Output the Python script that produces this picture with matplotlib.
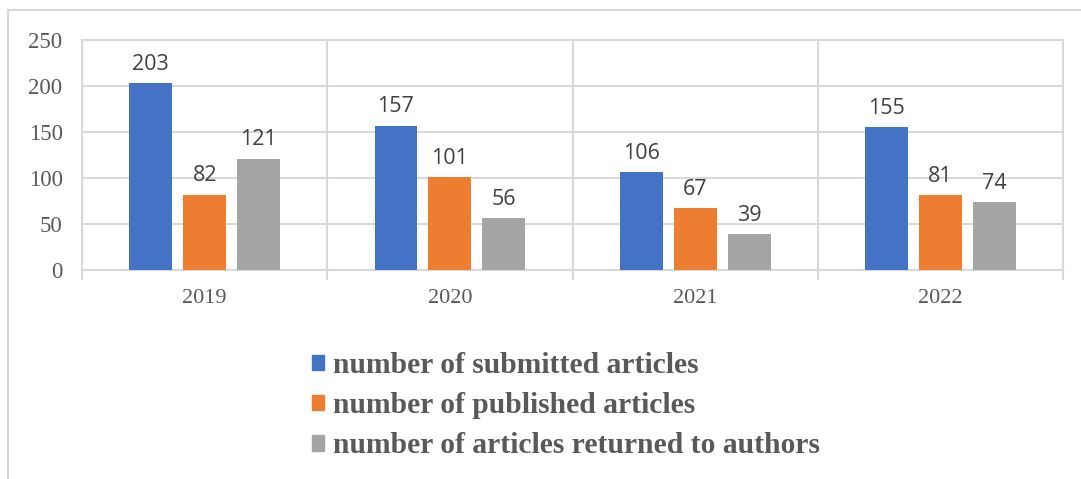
import numpy as np
import matplotlib
matplotlib.use("Agg")
import matplotlib.pyplot as plt
from matplotlib.lines import Line2D

# data
years = ["2019", "2020", "2021", "2022"]
submitted = [203, 157, 106, 155]
published = [82, 101, 67, 81]
returned = [121, 56, 39, 74]
series_names = ["number of submitted articles",
                "number of published articles",
                "number of articles returned to authors"]
colors = ["#4472c4", "#ed7d31", "#a5a5a5"]
yticks = [0, 50, 100, 150, 200, 250]

grid_c = "#d9d9d9"
text_c = "#595959"

fig = plt.figure(figsize=(10.81, 4.79), dpi=100)
ax = fig.add_axes([0.0759, 0.4363, 0.9075, 0.4802])

x = np.arange(len(years))
w = 0.175
step = 0.22
for i, (vals, c, name) in enumerate(zip([submitted, published, returned], colors, series_names)):
    xs = x + (i - 1) * step
    ax.bar(xs, vals, width=w, color=c, label=name, zorder=3)
    for xx, v in zip(xs, vals):
        ax.text(xx, v + 9, str(v), ha="center", va="bottom",
                fontsize=15.5, family="Open Sans", color="#404040")

ax.set_xlim(-0.5, len(years) - 0.5)
ax.set_ylim(0, 250)
ax.set_yticks(yticks)
ax.set_yticklabels([str(t) for t in yticks], family="Liberation Serif",
                   fontsize=16.5, color=text_c)
ax.tick_params(axis="y", length=0, pad=14)

# category labels at centres, ticks at boundaries
ax.set_xticks(x)
ax.set_xticklabels(years, family="Liberation Serif", fontsize=16, color=text_c)
ax.tick_params(axis="x", length=0, pad=14)
ax.set_xticks(np.arange(len(years) + 1) - 0.5, minor=True)
ax.tick_params(axis="x", which="minor", length=7, color=grid_c, width=1.5)

ax.yaxis.grid(True, color=grid_c, linewidth=1.5, zorder=0)
ax.xaxis.grid(True, which="minor", color=grid_c, linewidth=1.5, zorder=0)
for s in ax.spines.values():
    s.set_color(grid_c)
    s.set_linewidth(1.5)

# outer frame lines
fig.add_artist(Line2D([8 / 1081, 1], [1 - 10 / 479, 1 - 10 / 479], color=grid_c, lw=1.5))
fig.add_artist(Line2D([8 / 1081, 8 / 1081], [0, 1 - 10 / 479], color=grid_c, lw=1.5))

handles = [plt.Rectangle((0, 0), 1, 1, color=c) for c in colors]
leg = fig.legend(handles, series_names, loc="upper left",
                 bbox_to_anchor=(0.2745, 1 - 337 / 479), frameon=False,
                 handlelength=0.42, handleheight=0.42, handletextpad=0.3,
                 labelspacing=0.45, borderpad=0,
                 prop={"family": "Liberation Serif", "weight": "bold", "size": 21.3})
for t in leg.get_texts():
    t.set_color(text_c)

fig.savefig("out.png", dpi=100)
